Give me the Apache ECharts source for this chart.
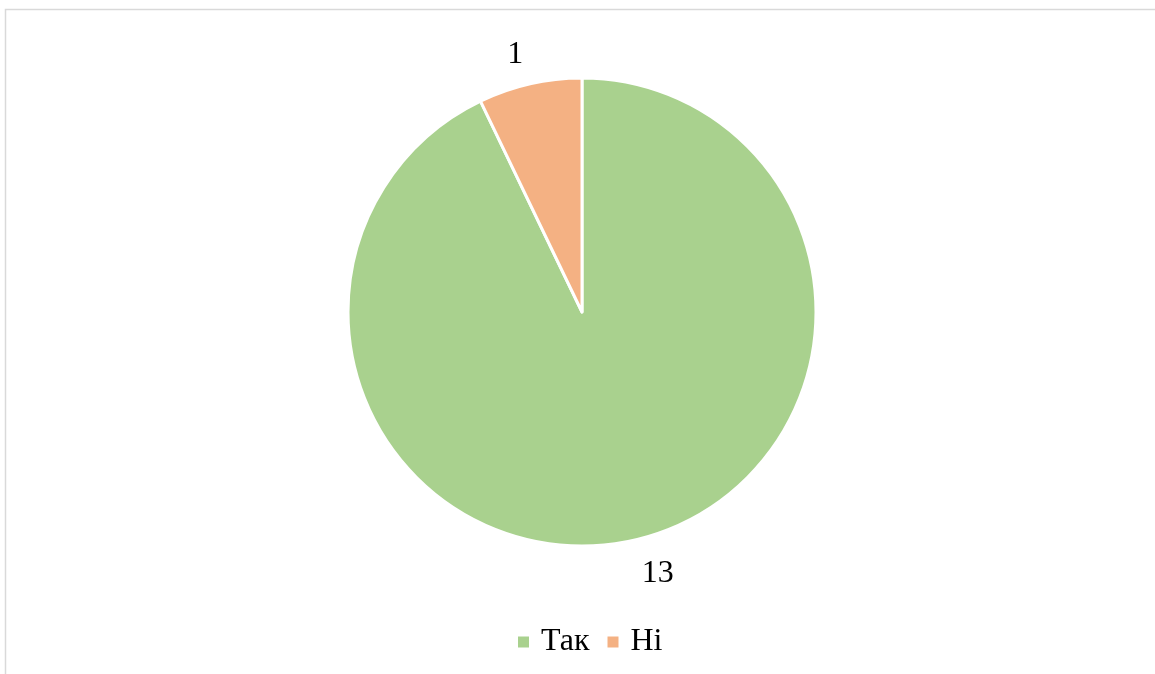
<!DOCTYPE html>
<html>
<head>
<meta charset="utf-8">
<script src="https://cdn.jsdelivr.net/npm/echarts@6/dist/echarts.min.js"></script>
<style>html,body{margin:0;padding:0;background:#fff}#c{width:1155px;height:674px}</style>
</head>
<body>
<div id="c"></div>
<script>
const categories = ['Так', 'Ні'];
const values = [13, 1];
const colors = ['#A9D18E', '#F4B183'];

const chart = echarts.init(document.getElementById('c'));
chart.setOption({
  animation: false,
  backgroundColor: '#fff',
  textStyle: { fontFamily: 'Liberation Serif' },
  graphic: [{
    type: 'rect', silent: true,
    shape: { x: 5.5, y: 9.5, width: 1300, height: 800 },
    style: { fill: 'none', stroke: '#d9d9d9', lineWidth: 1.5 }
  }],
  legend: {
    data: categories,
    top: 626,
    left: 516,
    padding: 0,
    icon: 'rect',
    itemWidth: 13, itemHeight: 13,
    itemGap: 16,
    textStyle: { fontFamily: 'Liberation Serif', fontSize: 32, color: '#000', padding: [4, 0, 0, 6] }
  },
  series: [{
    type: 'pie',
    center: [582, 312],
    radius: 234,
    startAngle: 90,
    clockwise: true,
    data: categories.map((c, i) => ({
      name: c, value: values[i], itemStyle: { color: colors[i] },
      labelLine: { show: false, length: i === 1 ? 30 : 34, length2: 0 }
    })),
    itemStyle: { borderColor: '#fff', borderWidth: 3 },
    label: {
      show: true, position: 'outside', formatter: '{c}',
      fontFamily: 'Liberation Serif', fontSize: 32, color: '#000',
      distanceToLabelLine: 0
    },
    labelLine: { show: false, length: 34, length2: 0 }
  }]
});
</script>
</body>
</html>
